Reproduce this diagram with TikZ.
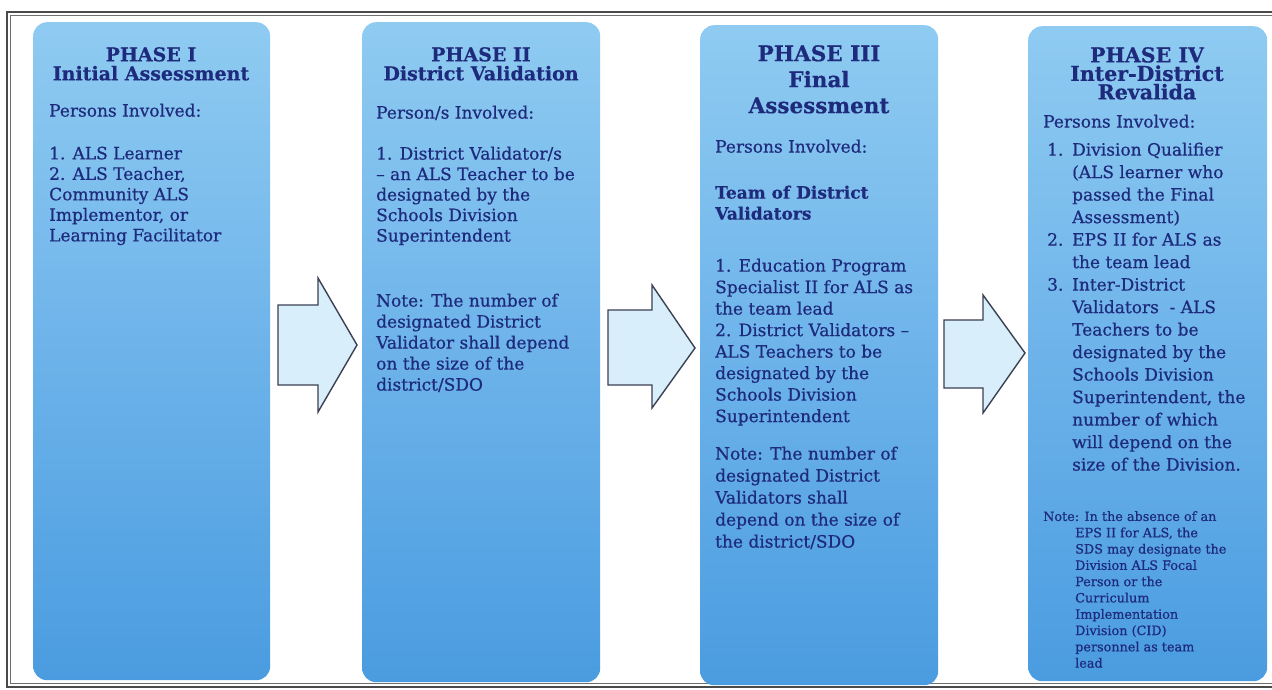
\documentclass[tikz,border=0pt]{standalone}
\usepackage{fontspec}
\setmainfont{DejaVu Serif}
\newfontfamily\bodyfnt{DejaVu Serif}[FakeBold=0.6]
\newfontfamily\ttlfnt{DejaVu Serif}[BoldFeatures={FakeBold=0.5}]
\definecolor{ink}{HTML}{1E2A7C}
\definecolor{boxtop}{HTML}{8FCBF1}
\definecolor{boxmid}{HTML}{6DB3EA}
\definecolor{boxbot}{HTML}{4A9CE0}
\definecolor{arrfill}{HTML}{D8EFFB}
\definecolor{arrline}{HTML}{3B4052}
\definecolor{framec}{HTML}{4A4A4A}
\begin{document}
\begin{tikzpicture}[x=1pt,y=-1pt,
  phasebox/.style={rounded corners=14pt, top color=boxtop, bottom color=boxbot, middle color=boxmid,
    draw=none, anchor=north west, inner sep=0, minimum width=#1},
  ttl/.style={font=\ttlfnt\bfseries\fontsize{19}{19}\selectfont, text=ink, align=center, inner sep=0, anchor=north},
  bigttl/.style={font=\ttlfnt\bfseries\fontsize{21.5}{26}\selectfont, text=ink, align=center, inner sep=0, anchor=north},
  body/.style={font=\bodyfnt\fontsize{17}{20.5}\selectfont, text=ink, align=left, inner sep=0, anchor=north west},
  bodyb/.style={body, font=\ttlfnt\bfseries\fontsize{17}{21}\selectfont},
  small/.style={font=\bodyfnt\fontsize{12.8}{16.3}\selectfont, text=ink, align=left, inner sep=0, anchor=north west},
  blockarrow/.style={fill=arrfill, draw=arrline, line width=1.4pt, line join=miter}
]
\clip (0,0) rectangle (1272,690);
\fill[white] (0,0) rectangle (1272,690);
% frame
\draw[framec, line width=1.8pt] (7,12) rectangle (1290,687);
\draw[framec!80, line width=0.7pt] (10.5,15.5) rectangle (1290,683.5);

% phase boxes
\node[phasebox=237pt, minimum height=658pt] (p1) at (33,22) {};
\node[phasebox=238pt, minimum height=660pt] (p2) at (362,22) {};
\node[phasebox=238pt, minimum height=660pt] (p3) at (700,25) {};
\node[phasebox=239pt, minimum height=655pt] (p4) at (1028,26) {};

% arrows
\draw[blockarrow] (278,305) -- (318,305) -- (318,278) -- (357,345) -- (318,412) -- (318,385) -- (278,385) -- cycle;
\draw[blockarrow] (608,310) -- (652,310) -- (652,285) -- (695,348) -- (652,408) -- (652,385) -- (608,385) -- cycle;
\draw[blockarrow] (944,320) -- (983,320) -- (983,295) -- (1025,353) -- (983,413) -- (983,388) -- (944,388) -- cycle;

% Phase I
\node[ttl] (t1) at (151,47) {PHASE I\\Initial Assessment};
\node[body] (h1) at (49,103.5) {Persons Involved:};
\node[body] (l1) at (49,146.5) {1. ALS Learner\\2. ALS Teacher,\\Community ALS\\Implementor, or\\Learning Facilitator};

% Phase II
\node[ttl] (t2) at (481,47) {PHASE II\\District Validation};
\node[body] (h2) at (376,105.5) {Person/s Involved:};
\node[body] (l2) at (376,146.5) {1. District Validator/s\\– an ALS Teacher to be\\designated by the\\Schools Division\\Superintendent};
\node[body, font=\bodyfnt\fontsize{17}{21}\selectfont] (n2) at (376,293.5) {Note: The number of\\designated District\\Validator shall depend\\on the size of the\\district/SDO};

% Phase III
\node[bigttl] (t3) at (819,45) {PHASE III\\Final\\Assessment};
\node[body] (h3) at (715,139.5) {Persons Involved:};
\node[bodyb] (b3) at (715,185.5) {Team of District\\Validators};
\node[body, font=\bodyfnt\fontsize{17}{21.5}\selectfont] (l3) at (715,258.5) {1. Education Program\\Specialist II for ALS as\\the team lead\\2. District Validators –\\ALS Teachers to be\\designated by the\\Schools Division\\Superintendent};
\node[body, font=\bodyfnt\fontsize{17}{22}\selectfont] (n3) at (715,446.5) {Note: The number of\\designated District\\Validators shall\\depend on the size of\\the district/SDO};

% Phase IV
\node[bigttl, font=\ttlfnt\bfseries\fontsize{20.5}{18.5}\selectfont] (t4) at (1147,47) {PHASE IV\\Inter-District\\Revalida};
\node[body] (h4) at (1043,114.5) {Persons Involved:};
\node[body, font=\bodyfnt\fontsize{17}{22.5}\selectfont] (l4) at (1047,142.5) {\makebox[25pt][l]{1.}Division Qualifier\\
\hspace*{25pt}(ALS learner who\\
\hspace*{25pt}passed the Final\\
\hspace*{25pt}Assessment)\\
\makebox[25pt][l]{2.}EPS II for ALS as\\
\hspace*{25pt}the team lead\\
\makebox[25pt][l]{3.}Inter-District\\
\hspace*{25pt}Validators \ - ALS\\
\hspace*{25pt}Teachers to be\\
\hspace*{25pt}designated by the\\
\hspace*{25pt}Schools Division\\
\hspace*{25pt}Superintendent, the\\
\hspace*{25pt}number of which\\
\hspace*{25pt}will depend on the\\
\hspace*{25pt}size of the Division.};
\node[small] (n4) at (1043,511) {Note: In the absence of an\\
\hspace*{32pt}EPS II for ALS, the\\
\hspace*{32pt}SDS may designate the\\
\hspace*{32pt}Division ALS Focal\\
\hspace*{32pt}Person or the\\
\hspace*{32pt}Curriculum\\
\hspace*{32pt}Implementation\\
\hspace*{32pt}Division (CID)\\
\hspace*{32pt}personnel as team\\
\hspace*{32pt}lead};
\end{tikzpicture}
\end{document}
